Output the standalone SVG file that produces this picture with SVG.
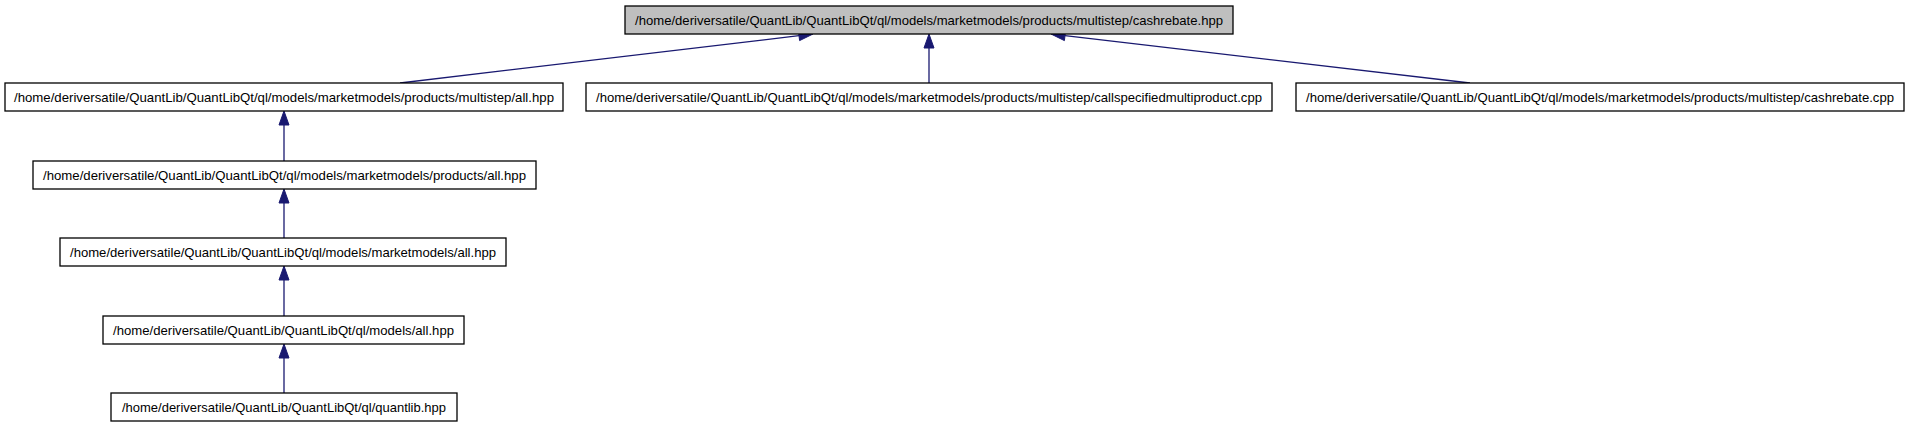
<svg xmlns="http://www.w3.org/2000/svg" width="1909" height="427" viewBox="0 0 1909 427">
<style>
.n rect{fill:#ffffff;stroke:#000000;stroke-width:1.3}
.n.root rect{fill:#bfbfbf}
.n text{font-family:"Liberation Sans",Arial,sans-serif;font-size:13.5px;fill:#000000;text-anchor:middle}
.e line{stroke:#191970;stroke-width:1.3}
.e polygon{fill:#191970;stroke:#191970;stroke-width:1}
</style>
<rect x="0" y="0" width="1909" height="427" fill="#ffffff"/>
<g id="edges" class="e">
<line x1="400" y1="83" x2="799" y2="35.7"/>
<polygon points="813,34 798.4,30.6 799.6,40.6"/>
<line x1="929" y1="83" x2="929" y2="48"/>
<polygon points="929,34 924,48 934,48"/>
<line x1="1470" y1="83" x2="1065" y2="35.6"/>
<polygon points="1051,34 1064.4,40.6 1065.6,30.6"/>
<line x1="284" y1="161" x2="284" y2="125"/>
<polygon points="284,111 279,125 289,125"/>
<line x1="284" y1="238" x2="284" y2="203"/>
<polygon points="284,189 279,203 289,203"/>
<line x1="284" y1="316" x2="284" y2="280"/>
<polygon points="284,266 279,280 289,280"/>
<line x1="284" y1="393" x2="284" y2="358"/>
<polygon points="284,344 279,358 289,358"/>
</g>
<g id="node_cashrebate_hpp" class="n root">
<rect x="625" y="6" width="608" height="28"/>
<text x="929" y="25" textLength="588" lengthAdjust="spacingAndGlyphs">/home/deriversatile/QuantLib/QuantLibQt/ql/models/marketmodels/products/multistep/cashrebate.hpp</text>
</g>
<g id="node_multistep_all_hpp" class="n">
<rect x="5" y="83" width="558" height="28"/>
<text x="284" y="102" textLength="540" lengthAdjust="spacingAndGlyphs">/home/deriversatile/QuantLib/QuantLibQt/ql/models/marketmodels/products/multistep/all.hpp</text>
</g>
<g id="node_callspecifiedmultiproduct_cpp" class="n">
<rect x="586" y="83" width="686" height="28"/>
<text x="929" y="102" textLength="666" lengthAdjust="spacingAndGlyphs">/home/deriversatile/QuantLib/QuantLibQt/ql/models/marketmodels/products/multistep/callspecifiedmultiproduct.cpp</text>
</g>
<g id="node_cashrebate_cpp" class="n">
<rect x="1296" y="83" width="608" height="28"/>
<text x="1600" y="102" textLength="588" lengthAdjust="spacingAndGlyphs">/home/deriversatile/QuantLib/QuantLibQt/ql/models/marketmodels/products/multistep/cashrebate.cpp</text>
</g>
<g id="node_products_all_hpp" class="n">
<rect x="33" y="161" width="503" height="28"/>
<text x="284.5" y="180" textLength="483" lengthAdjust="spacingAndGlyphs">/home/deriversatile/QuantLib/QuantLibQt/ql/models/marketmodels/products/all.hpp</text>
</g>
<g id="node_marketmodels_all_hpp" class="n">
<rect x="60" y="238" width="446" height="28"/>
<text x="283" y="257" textLength="426" lengthAdjust="spacingAndGlyphs">/home/deriversatile/QuantLib/QuantLibQt/ql/models/marketmodels/all.hpp</text>
</g>
<g id="node_models_all_hpp" class="n">
<rect x="103" y="316" width="361" height="28"/>
<text x="283.5" y="335" textLength="341" lengthAdjust="spacingAndGlyphs">/home/deriversatile/QuantLib/QuantLibQt/ql/models/all.hpp</text>
</g>
<g id="node_quantlib_hpp" class="n">
<rect x="111" y="393" width="346" height="28"/>
<text x="284" y="412" textLength="324" lengthAdjust="spacingAndGlyphs">/home/deriversatile/QuantLib/QuantLibQt/ql/quantlib.hpp</text>
</g>
</svg>
